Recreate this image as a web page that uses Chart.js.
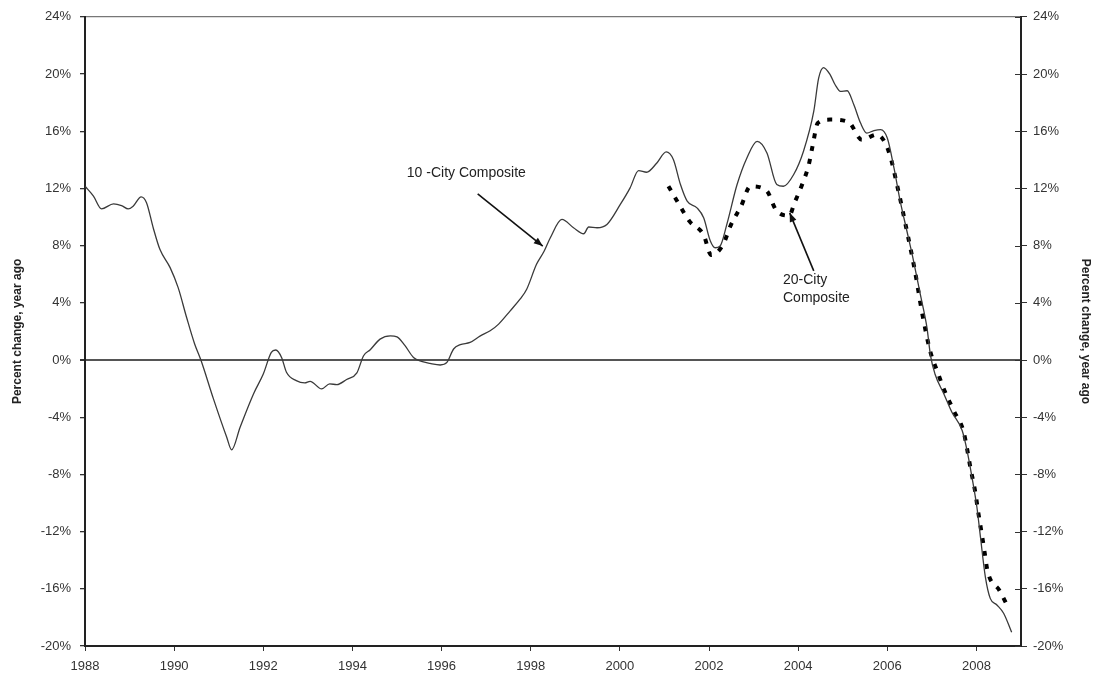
<!DOCTYPE html>
<html><head><meta charset="utf-8">
<script src="https://cdn.jsdelivr.net/npm/chart.js@4.4.1/dist/chart.umd.min.js"></script>
<style>html,body{margin:0;padding:0;background:#fff}#wrap{width:1093px;height:675px}</style>
</head><body><div id="wrap"><canvas id="c" width="1093" height="675"></canvas></div>
<script>
// 10-City Composite, % change year ago
const years10 = [1988.00,1988.19,1988.37,1988.64,1988.82,1988.97,1989.08,1989.26,1989.38,1989.53,1989.68,1989.91,
  1990.09,1990.28,1990.46,1990.60,1990.88,1991.18,1991.29,1991.48,1991.78,1992.00,1992.18,1992.28,1992.41,1992.52,
  1992.74,1992.93,1993.05,1993.31,1993.49,1993.65,1993.87,1994.10,1994.25,1994.40,1994.62,1994.85,1995.00,1995.18,
  1995.37,1995.55,1995.74,1995.97,1996.12,1996.27,1996.42,1996.64,1996.87,1997.09,1997.28,1997.54,1997.76,1997.91,
  1998.13,1998.30,1998.44,1998.70,1998.96,1999.19,1999.30,1999.49,1999.71,2000.01,2000.23,2000.42,2000.60,2000.83,
  2001.04,2001.20,2001.36,2001.51,2001.73,2001.88,2002.03,2002.14,2002.25,2002.40,2002.63,2002.85,2003.08,2003.30,
  2003.52,2003.67,2003.90,2004.12,2004.35,2004.46,2004.57,2004.72,2004.83,2004.95,2005.10,2005.25,2005.40,2005.54,
  2005.70,2005.85,2006.00,2006.15,2006.29,2006.44,2006.59,2006.74,2006.89,2006.97,2007.07,2007.27,2007.45,2007.68,
  2007.79,2007.90,2008.01,2008.09,2008.20,2008.31,2008.46,2008.61,2008.79];
const city10 = [12.15,11.46,10.57,10.92,10.80,10.57,10.76,11.41,11.00,9.25,7.74,6.46,
  5.06,2.97,1.12,0.00,-2.70,-5.40,-6.28,-4.70,-2.37,-0.98,0.53,0.70,0.18,-0.86,
  -1.44,-1.60,-1.49,-2.02,-1.67,-1.72,-1.36,-0.90,0.30,0.72,1.46,1.69,1.62,1.00,
  0.18,-0.10,-0.24,-0.35,-0.17,0.77,1.07,1.23,1.69,2.04,2.51,3.44,4.25,4.95,
  6.69,7.60,8.55,9.83,9.25,8.83,9.30,9.25,9.48,10.88,12.04,13.25,13.13,13.78,
  14.55,14.02,12.27,11.11,10.64,9.94,8.32,7.85,7.97,9.48,12.27,14.13,15.29,14.48,
  12.27,12.15,12.97,14.60,17.38,19.71,20.45,19.94,19.25,18.78,18.83,17.85,16.57,15.87,
  16.04,16.11,15.52,13.43,11.11,9.02,6.92,4.60,2.27,0.30,-0.98,-2.37,-3.65,-4.93,
  -6.33,-8.19,-10.28,-12.37,-15.16,-16.67,-17.13,-17.71,-19.04];
// 20-City Composite
const years20 = [2001.09,2001.32,2001.56,2001.88,2002.05,2002.31,2002.49,2002.72,2002.93,2003.29,2003.51,2003.80,
  2003.92,2004.09,2004.24,2004.33,2004.44,2004.72,2005.13,2005.43,2005.77,2006.03,2006.25,2006.44,2006.62,2006.78,
  2006.96,2007.13,2007.29,2007.50,2007.71,2007.88,2007.97,2008.04,2008.11,2008.18,2008.25,2008.52,2008.73];
const city20 = [12.15,10.92,9.71,8.74,7.34,8.04,9.43,10.76,12.15,11.85,10.46,10.10,
  11.00,12.27,13.67,15.06,16.57,16.81,16.64,15.41,15.76,14.60,11.81,9.02,6.23,3.32,
  0.65,-0.86,-2.19,-3.60,-5.00,-7.77,-9.16,-10.63,-11.97,-13.37,-14.76,-16.13,-17.41];
const xTickYears = [1988,1990,1992,1994,1996,1998,2000,2002,2004,2006,2008];
const yTickValues = [-20,-16,-12,-8,-4,0,4,8,12,16,20,24];
const axisTitle = 'Percent change, year ago';

const FONT = "'Liberation Sans', Arial, sans-serif";
const tickFont = {family: FONT, size: 13};

const annot = {
  id: 'annot',
  afterDatasetsDraw(chart) {
    const {ctx, scales: {x, y}} = chart;
    const P = (a, b) => [x.getPixelForValue(a), y.getPixelForValue(b)];
    ctx.save();
    ctx.fillStyle = '#222';
    ctx.font = "14px " + FONT;
    ctx.textBaseline = 'middle';
    ctx.textAlign = 'left';
    let p = P(1995.22, 13.08); ctx.fillText('10 -City Composite', p[0], p[1]);
    p = P(2003.66, 5.58); ctx.fillText('20-City', p[0], p[1]);
    p = P(2003.66, 4.30); ctx.fillText('Composite', p[0], p[1]);
    function arrow(a, b) {
      ctx.strokeStyle = '#111'; ctx.fillStyle = '#111'; ctx.lineWidth = 1.6;
      ctx.beginPath(); ctx.moveTo(a[0], a[1]); ctx.lineTo(b[0], b[1]); ctx.stroke();
      const ang = Math.atan2(b[1] - a[1], b[0] - a[0]);
      const L = 9, W = 3.5;
      ctx.beginPath();
      ctx.moveTo(b[0], b[1]);
      ctx.lineTo(b[0] - L * Math.cos(ang) + W * Math.sin(ang), b[1] - L * Math.sin(ang) - W * Math.cos(ang));
      ctx.lineTo(b[0] - L * Math.cos(ang) - W * Math.sin(ang), b[1] - L * Math.sin(ang) + W * Math.cos(ang));
      ctx.closePath(); ctx.fill();
    }
    arrow(P(1996.81, 11.62), P(1998.27, 7.97));
    arrow(P(2004.35, 6.23), P(2003.81, 10.29));
    // inner tick marks on right axis
    const r = chart.scales.y2;
    ctx.strokeStyle = '#333'; ctx.lineWidth = 1;
    yTickValues.forEach(v => {
      const yy = Math.round(r.getPixelForValue(v)) + 0.5;
      ctx.beginPath(); ctx.moveTo(r.left - 6, yy); ctx.lineTo(r.left, yy); ctx.stroke();
    });
    ctx.restore();
  }
};

new Chart(document.getElementById('c'), {
  type: 'line',
  data: {
    datasets: [
      {label: '10-City Composite', data: years10.map((v, i) => ({x: v, y: city10[i]})),
       borderColor: '#3a3a3a', borderWidth: 1.3, pointRadius: 0, cubicInterpolationMode: 'monotone', fill: false},
      {label: '20-City Composite', data: years20.map((v, i) => ({x: v, y: city20[i]})),
       borderColor: '#000', borderWidth: 4, borderDash: [5, 8], borderCapStyle: 'butt',
       pointRadius: 0, cubicInterpolationMode: 'monotone', fill: false}
    ]
  },
  options: {
    responsive: false, devicePixelRatio: 1, animation: false,
    layout: {padding: {top: 15, left: 0, right: 0, bottom: 0}},
    plugins: {legend: {display: false}, tooltip: {enabled: false}},
    scales: {
      x: {
        type: 'linear', min: 1988, max: 2009,
        afterBuildTicks: s => { s.ticks = xTickYears.map(v => ({value: v})); },
        afterFit: s => { s.height = 29; },
        ticks: {callback: v => String(v), font: tickFont, color: '#333', padding: 8, maxRotation: 0, autoSkip: false},
        grid: {drawOnChartArea: false, tickLength: 5, tickColor: '#333'},
        border: {color: '#222', width: 2}
      },
      y: {
        position: 'left', min: -20, max: 24,
        afterBuildTicks: s => { s.ticks = yTickValues.map(v => ({value: v})); },
        afterFit: s => { s.width = 85; },
        ticks: {callback: v => v + '%', font: tickFont, color: '#333', padding: 9},
        title: {display: true, text: axisTitle, font: {family: FONT, size: 12, weight: 'bold'}, color: '#222', padding: {top: 10, bottom: 0}},
        grid: {
          color: c => c.tick && c.tick.value === 0 ? '#555' : (c.tick && c.tick.value === 24 ? '#777' : 'rgba(0,0,0,0)'),
          lineWidth: c => c.tick && c.tick.value === 0 ? 2 : 1.3,
          tickLength: 5, tickColor: '#333'
        },
        border: {color: '#222', width: 2}
      },
      y2: {
        position: 'right', min: -20, max: 24,
        afterBuildTicks: s => { s.ticks = yTickValues.map(v => ({value: v})); },
        afterFit: s => { s.width = 72; },
        ticks: {callback: v => v + '%', font: tickFont, color: '#333', padding: 6},
        title: {display: true, text: axisTitle, font: {family: FONT, size: 12, weight: 'bold'}, color: '#222', padding: {top: 0, bottom: 0}},
        grid: {drawOnChartArea: false, tickLength: 6, tickColor: '#333'},
        border: {color: '#222', width: 2}
      }
    }
  },
  plugins: [annot]
});
</script>
</body></html>
